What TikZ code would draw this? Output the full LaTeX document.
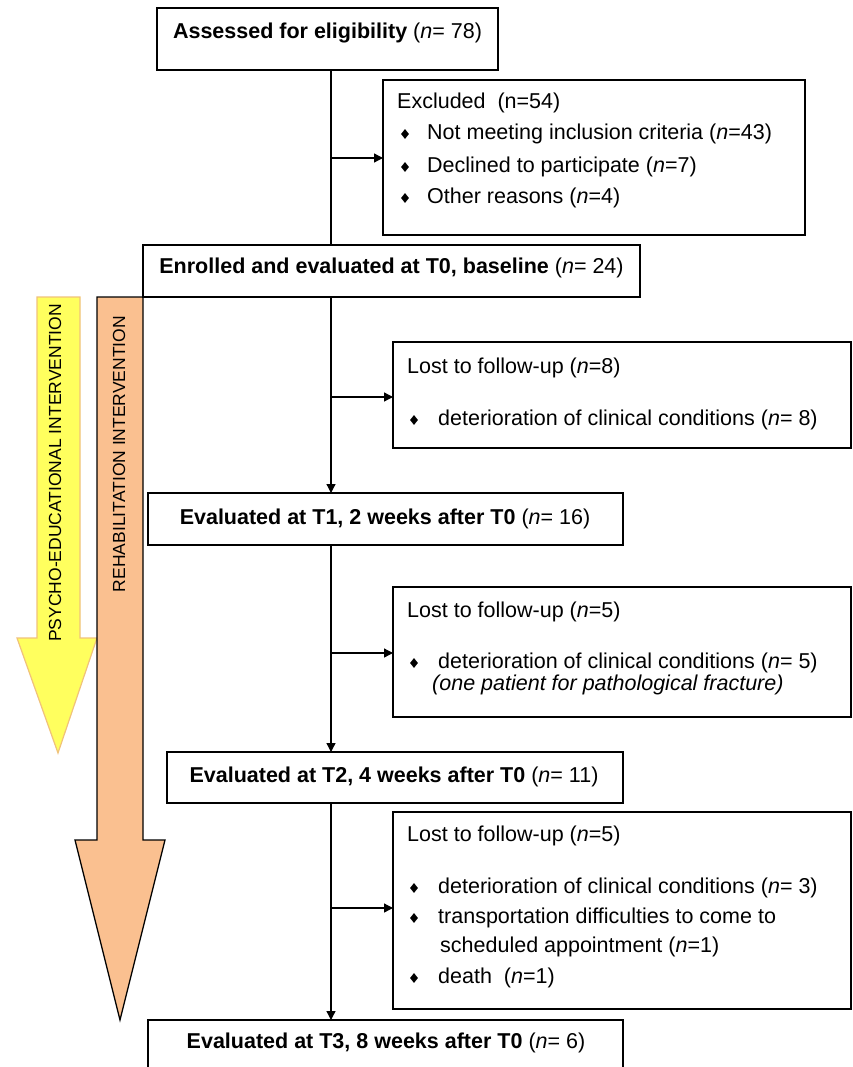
\documentclass[tikz,border=0pt]{standalone}
\usepackage{fontspec}
\setmainfont{Liberation Sans}
\usetikzlibrary{arrows.meta,shapes.geometric}
\definecolor{yelfill}{HTML}{FFFF5E}
\definecolor{yeledge}{HTML}{F0C27A}
\definecolor{orfill}{HTML}{FAC090}
\begin{document}
\begin{tikzpicture}[x=1pt,y=-1pt,
  box/.style={draw, line width=1.4pt, inner sep=0pt, outer sep=0pt, anchor=north west},
  txt/.style={font=\fontsize{21.5}{26}\selectfont, inner sep=0pt, anchor=west},
  btxt/.style={font=\fontsize{21.5}{26}\selectfont\bfseries, inner sep=0pt, anchor=center},
  vtxt/.style={font=\fontsize{17.5}{20}\selectfont, inner sep=0pt, rotate=90},
  bul/.style={diamond, fill=black, inner sep=0pt, minimum width=8pt, minimum height=10pt},
  conn/.style={line width=1.3pt},
  arr/.style={conn, -{Triangle[length=9pt,width=9pt]}}]
\useasboundingbox (0,0) rectangle (853,1067);

% intervention arrows
\draw[yeledge, line width=1.2pt, fill=yelfill, line join=miter]
  (37,297) -- (80,297) -- (80,638) -- (97,638) -- (58,753) -- (17,638) -- (37,638) -- cycle;
\draw[black, line width=1.3pt, fill=orfill, line join=miter]
  (97,297) -- (143,297) -- (143,840) -- (165,840) -- (120,1020) -- (75,840) -- (97,840) -- cycle;
\node[vtxt] (psy) at (55,473) {PSYCHO-EDUCATIONAL INTERVENTION};
\node[vtxt] (reh) at (119,454) {REHABILITATION INTERVENTION};

% boxes
\node[box, minimum width=341pt, minimum height=62pt] (top) at (157,8) {};
\node[box, minimum width=422pt, minimum height=155pt] (excl) at (383,80) {};
\node[box, minimum width=497pt, minimum height=52pt] (enr) at (143,245) {};
\node[box, minimum width=458pt, minimum height=106pt] (lost1) at (393,342) {};
\node[box, minimum width=475pt, minimum height=52pt] (t1) at (148,493) {};
\node[box, minimum width=458pt, minimum height=130pt] (lost2) at (393,587) {};
\node[box, minimum width=456pt, minimum height=51pt] (t2) at (167,752) {};
\node[box, minimum width=458pt, minimum height=197pt] (lost3) at (393,812) {};
\node[box, minimum width=475pt, minimum height=62pt] (t3) at (148,1020) {};

% main texts
\node[btxt] (ttop) at (327.5,33) {Assessed for eligibility {\mdseries(\textit{n}= 78)}};
\node[btxt] (tenr) at (391.5,268) {Enrolled and evaluated at T0, baseline {\mdseries(\textit{n}= 24)}};
\node[btxt] (tt1) at (385,519) {Evaluated at T1, 2 weeks after T0 {\mdseries(\textit{n}= 16)}};
\node[btxt] (tt2) at (394,777) {Evaluated at T2, 4 weeks after T0 {\mdseries(\textit{n}= 11)}};
\node[btxt] (tt3) at (386,1043) {Evaluated at T3, 8 weeks after T0 {\mdseries(\textit{n}= 6)}};

% excluded
\node[txt] (eh) at (397,103) {Excluded\ \ (n=54)};
\node[bul] (eb1) at (405,134) {};
\node[txt] (e1) at (427,134) {Not meeting inclusion criteria (\textit{n}=43)};
\node[bul] (eb2) at (405,167) {};
\node[txt] (e2) at (427,167) {Declined to participate (\textit{n}=7)};
\node[bul] (eb3) at (405,198) {};
\node[txt] (e3) at (427,198) {Other reasons (\textit{n}=4)};

% lost 1
\node[txt] (l1h) at (407,368) {Lost to follow-up (\textit{n}=8)};
\node[bul] (l1b) at (414,420) {};
\node[txt] (l1a) at (438,420) {deterioration of clinical conditions (\textit{n}= 8)};

% lost 2
\node[txt] (l2h) at (407,612) {Lost to follow-up (\textit{n}=5)};
\node[bul] (l2b) at (414,663) {};
\node[txt] (l2a) at (438,663) {deterioration of clinical conditions (\textit{n}= 5)};
\node[txt] (l2c) at (432,685) {\itshape (one patient for pathological fracture)};

% lost 3
\node[txt] (l3h) at (407,836) {Lost to follow-up (\textit{n}=5)};
\node[bul] (l3b1) at (414,888) {};
\node[txt] (l3a) at (438,888) {deterioration of clinical conditions (\textit{n}= 3)};
\node[bul] (l3b2) at (414,918) {};
\node[txt] (l3b) at (438,918) {transportation difficulties to come to};
\node[txt] (l3c) at (440,947) {scheduled appointment (\textit{n}=1)};
\node[bul] (l3b3) at (414,978) {};
\node[txt] (l3d) at (438,978) {death\ \ (\textit{n}=1)};

% connectors
\coordinate (spine) at (331,0);
\coordinate (j0) at (331,158);
\coordinate (j1) at (331,397);
\coordinate (j2) at (331,653);
\coordinate (j3) at (331,908);
\draw[conn] (top.south -| spine) -- (enr.north -| spine);
\draw[arr] (j0) -- (j0 -| excl.west);
\draw[arr] (enr.south -| spine) -- (t1.north -| spine);
\draw[arr] (j1) -- (j1 -| lost1.west);
\draw[arr] (t1.south -| spine) -- (t2.north -| spine);
\draw[arr] (j2) -- (j2 -| lost2.west);
\draw[arr] (t2.south -| spine) -- (t3.north -| spine);
\draw[arr] (j3) -- (j3 -| lost3.west);
\end{tikzpicture}
\end{document}
